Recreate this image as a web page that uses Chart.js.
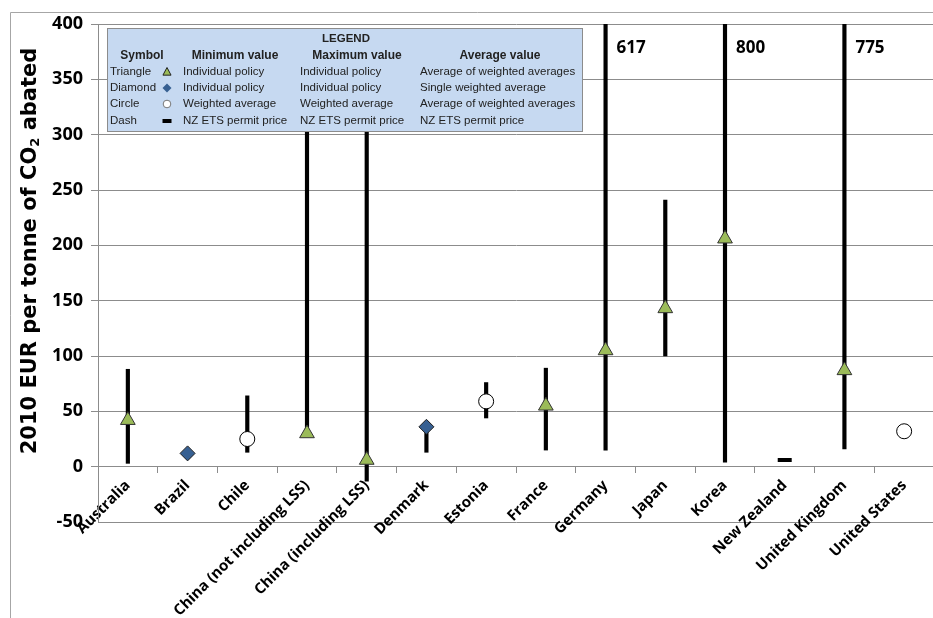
<!DOCTYPE html>
<html>
<head>
  <title>Cost per tonne of CO2 abated</title>
  <script src="https://cdn.jsdelivr.net/npm/chart.js"></script>
  <style>
    body {
      margin: 0;
      background: #fff;
      overflow: hidden;
    }
    #wrap {
      position: relative;
      width: 933px;
      height: 618px;
      overflow: hidden;
    }
  </style>
</head>
<body>

<div id="wrap"><canvas id="costChart" width="945" height="618"></canvas></div>

<script>
  const categories = ['Australia', 'Brazil', 'Chile', 'China (not including LSS)', 'China (including LSS)',
    'Denmark', 'Estonia', 'France', 'Germany', 'Japan', 'Korea', 'New Zealand', 'United Kingdom', 'United States'];

  // low / high end of each range (EUR per tonne)
  const minValues = [3, 12, 13, 30, -13, 13, 44, 15, 15, 100, 4, 6, 16, 32];
  const maxValues = [88, 12, 64, 350, 350, 36, 76, 89, 617, 241, 800, 6, 775, 32];

  // average markers, by symbol
  const triangleAvg = [42, null, null, 30, 6, null, null, 55, 105, 143, 206, null, 87, null];
  const diamondAvg  = [null, 12, null, null, null, 36, null, null, null, null, null, null, null, null];
  const circleAvg   = [null, null, 25, null, null, null, 59, null, null, null, null, null, null, 32];
  const dashAvg     = [null, null, null, null, null, null, null, null, null, null, null, 6, null, null];

  const yMin = -50;
  const yMax = 400;
  const yStep = 50;

  const legendRows = [
    ['Triangle', 'triangle', 'Individual policy', 'Individual policy', 'Average of weighted averages'],
    ['Diamond', 'diamond', 'Individual policy', 'Individual policy', 'Single weighted average'],
    ['Circle', 'circle', 'Weighted average', 'Weighted average', 'Average of weighted averages'],
    ['Dash', 'dash', 'NZ ETS permit price', 'NZ ETS permit price', 'NZ ETS permit price']
  ];
  const legendHeaders = ['Symbol', 'Minimum value', 'Maximum value', 'Average value'];

  const GREEN = '#9bbb59';
  const BLUE = '#376092';
  const GRID = '#8c8c8c';

  // outer frame of the chart object
  const framePlugin = {
    id: 'frame',
    beforeDraw(chart) {
      const ctx = chart.ctx;
      ctx.save();
      ctx.strokeStyle = '#a6a6a6';
      ctx.lineWidth = 1;
      ctx.beginPath();
      ctx.moveTo(10.5, chart.height);
      ctx.lineTo(10.5, 12.5);
      ctx.lineTo(chart.width, 12.5);
      ctx.stroke();
      ctx.restore();
    }
  };

  // y axis title, with a real subscript 2
  const yTitlePlugin = {
    id: 'yTitle',
    afterDraw(chart) {
      const ctx = chart.ctx;
      const big = 'bold 21px "DejaVu Sans"';
      const small = 'bold 13px "DejaVu Sans"';
      const parts = [['2010 EUR per tonne of CO', big, 0], ['2', small, 5], [' abated', big, 0]];
      let total = 0;
      parts.forEach(p => { ctx.font = p[1]; total += ctx.measureText(p[0]).width; });
      ctx.save();
      ctx.translate(31, 251);
      ctx.rotate(-Math.PI / 2);
      ctx.fillStyle = '#000';
      ctx.textBaseline = 'middle';
      ctx.textAlign = 'left';
      let x = -total / 2;
      parts.forEach(p => {
        ctx.font = p[1];
        ctx.fillText(p[0], x, p[2]);
        x += ctx.measureText(p[0]).width;
      });
      ctx.restore();
    }
  };

  // values above the axis top get written next to their line
  const offScalePlugin = {
    id: 'offScale',
    afterDatasetsDraw(chart) {
      const ctx = chart.ctx;
      const xs = chart.scales.x;
      ctx.save();
      ctx.font = 'bold 17px "Open Sans"';
      ctx.fillStyle = '#000';
      ctx.textBaseline = 'middle';
      ctx.textAlign = 'left';
      maxValues.forEach((v, i) => {
        if (v > yMax) {
          ctx.fillText(String(v), xs.getPixelForValue(i) + 11, chart.chartArea.top + 24);
        }
      });
      ctx.restore();
    }
  };

  function drawSymbol(ctx, kind, x, y, size) {
    ctx.save();
    ctx.lineWidth = 1;
    ctx.strokeStyle = '#222';
    ctx.beginPath();
    if (kind === 'triangle') {
      ctx.fillStyle = GREEN;
      ctx.moveTo(x, y - size);
      ctx.lineTo(x + size * 0.9, y + size * 0.7);
      ctx.lineTo(x - size * 0.9, y + size * 0.7);
      ctx.closePath();
      ctx.fill();
      ctx.stroke();
    } else if (kind === 'diamond') {
      ctx.fillStyle = BLUE;
      ctx.strokeStyle = BLUE;
      ctx.moveTo(x, y - size);
      ctx.lineTo(x + size, y);
      ctx.lineTo(x, y + size);
      ctx.lineTo(x - size, y);
      ctx.closePath();
      ctx.fill();
    } else if (kind === 'circle') {
      ctx.fillStyle = '#fff';
      ctx.strokeStyle = '#777';
      ctx.arc(x, y, size * 0.85, 0, Math.PI * 2);
      ctx.fill();
      ctx.stroke();
    } else {
      ctx.fillStyle = '#000';
      ctx.fillRect(x - size, y - 2, size * 2, 4);
    }
    ctx.restore();
  }

  // the boxed legend table in the top left
  const legendBoxPlugin = {
    id: 'legendBox',
    afterDatasetsDraw(chart) {
      const ctx = chart.ctx;
      const bx = 107, by = 28, bw = 475, bh = 103;
      ctx.save();
      ctx.fillStyle = '#c6d9f1';
      ctx.fillRect(bx, by, bw, bh);
      ctx.strokeStyle = '#8c8c8c';
      ctx.lineWidth = 1;
      ctx.strokeRect(bx + 0.5, by + 0.5, bw, bh);

      ctx.fillStyle = '#222';
      ctx.textBaseline = 'middle';
      ctx.textAlign = 'center';
      ctx.font = 'bold 11.5px "Liberation Sans", Arial, sans-serif';
      ctx.fillText('LEGEND', 346, 39);

      ctx.font = 'bold 12px "Liberation Sans", Arial, sans-serif';
      const headerX = [142, 235, 357, 500];
      legendHeaders.forEach((h, i) => ctx.fillText(h, headerX[i], 56));

      ctx.font = '11.5px "Liberation Sans", Arial, sans-serif';
      ctx.textAlign = 'left';
      const rowY = [72, 88, 104, 121];
      legendRows.forEach((row, r) => {
        const y = rowY[r];
        ctx.fillStyle = '#222';
        ctx.fillText(row[0], 110, y);
        ctx.fillText(row[2], 183, y);
        ctx.fillText(row[3], 300, y);
        ctx.fillText(row[4], 420, y);
        drawSymbol(ctx, row[1], 167, y, 4.5);
      });
      ctx.restore();
    }
  };

  const ctx = document.getElementById('costChart').getContext('2d');
  const costChart = new Chart(ctx, {
    type: 'bar',
    data: {
      labels: categories,
      datasets: [
        {
          type: 'bar',
          label: 'Range',
          data: categories.map((c, i) => [minValues[i], maxValues[i]]),
          backgroundColor: '#000',
          borderWidth: 0,
          barThickness: 3.5,
          order: 10
        },
        {
          type: 'line',
          label: 'Triangle',
          data: triangleAvg,
          showLine: false,
          pointStyle: 'triangle',
          pointRadius: 8.5,
          pointBackgroundColor: GREEN,
          pointBorderColor: '#333',
          pointBorderWidth: 1,
          order: 1
        },
        {
          type: 'line',
          label: 'Diamond',
          data: diamondAvg,
          showLine: false,
          pointStyle: 'rectRot',
          pointRadius: 7.5,
          pointBackgroundColor: BLUE,
          pointBorderColor: '#1f1f1f',
          pointBorderWidth: 1,
          order: 1
        },
        {
          type: 'line',
          label: 'Circle',
          data: circleAvg,
          showLine: false,
          pointStyle: 'circle',
          pointRadius: 7.5,
          pointBackgroundColor: '#fff',
          pointBorderColor: '#000',
          pointBorderWidth: 1,
          order: 1
        },
        {
          type: 'line',
          label: 'Dash',
          data: dashAvg,
          showLine: false,
          pointStyle: 'line',
          pointRadius: 7,
          pointBorderColor: '#000',
          pointBorderWidth: 4,
          order: 1
        }
      ]
    },
    options: {
      responsive: false,
      animation: false,
      layout: { padding: { left: 0, right: 0, top: 24, bottom: 96 } },
      plugins: {
        legend: { display: false },
        tooltip: { enabled: false }
      },
      scales: {
        x: {
          type: 'category',
          position: { y: 0 },
          offset: true,
          grid: {
            display: true,
            offset: true,
            drawOnChartArea: false,
            tickLength: 6,
            color: GRID
          },
          border: { color: GRID },
          ticks: {
            autoSkip: false,
            maxRotation: 45,
            minRotation: 45,
            padding: 4,
            color: '#000',
            font: { family: '"Open Sans"', weight: 'bold', size: 15 }
          }
        },
        y: {
          min: yMin,
          max: yMax,
          afterFit(scale) { scale.width = 98; },
          grid: {
            color: GRID,
            tickLength: 7,
            tickColor: c => (c.tick && c.tick.value === yMin ? 'rgba(0,0,0,0)' : GRID)
          },
          border: { color: GRID },
          ticks: {
            stepSize: yStep,
            padding: 8,
            color: '#000',
            font: { family: '"Open Sans"', weight: 'bold', size: 18 }
          }
        }
      }
    },
    plugins: [framePlugin, yTitlePlugin, offScalePlugin, legendBoxPlugin]
  });
</script>

</body>
</html>
